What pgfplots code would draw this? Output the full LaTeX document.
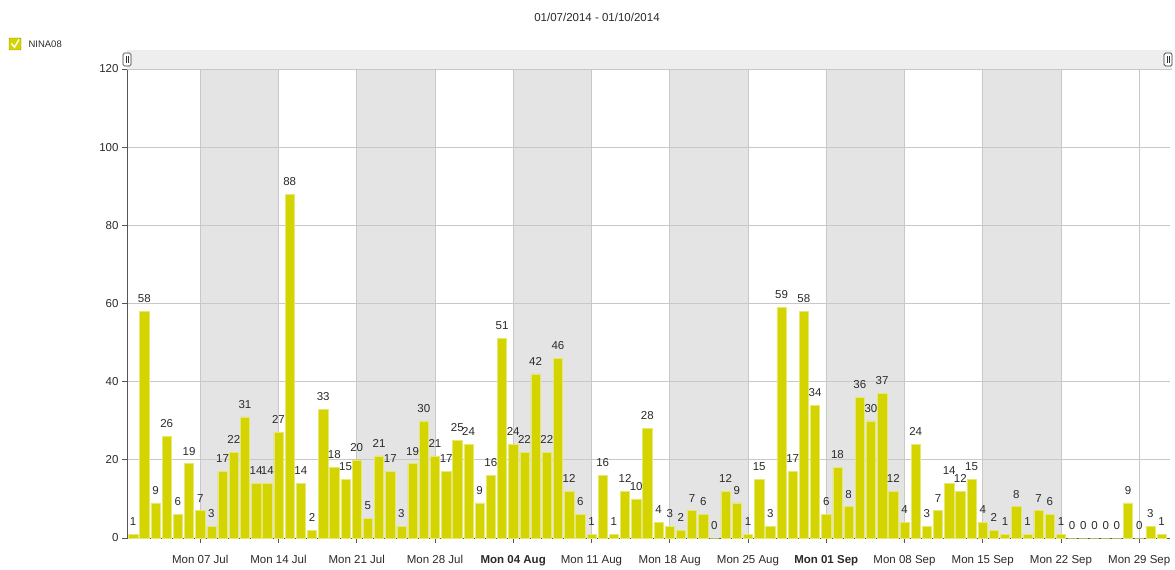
\documentclass[border=0pt]{standalone}
\usepackage{pgfplots}
\pgfplotsset{compat=1.18}
\usepackage{fontspec}
\setmainfont{Liberation Sans}
\definecolor{barcol}{HTML}{D4D400}
\definecolor{bandcol}{HTML}{E4E4E4}
\definecolor{stripcol}{HTML}{EEEEEE}
\definecolor{gridcol}{HTML}{C8C8C8}
\definecolor{axcol}{HTML}{555555}
\definecolor{txt}{HTML}{2A2A2A}

\pgfplotstableread{
x y
0 1
1 58
2 9
3 26
4 6
5 19
6 7
7 3
8 17
9 22
10 31
11 14
12 14
13 27
14 88
15 14
16 2
17 33
18 18
19 15
20 20
21 5
22 21
23 17
24 3
25 19
26 30
27 21
28 17
29 25
30 24
31 9
32 16
33 51
34 24
35 22
36 42
37 22
38 46
39 12
40 6
41 1
42 16
43 1
44 12
45 10
46 28
47 4
48 3
49 2
50 7
51 6
52 0
53 12
54 9
55 1
56 15
57 3
58 59
59 17
60 58
61 34
62 6
63 18
64 8
65 36
66 30
67 37
68 12
69 4
70 24
71 3
72 7
73 14
74 12
75 15
76 4
77 2
78 1
79 8
80 1
81 7
82 6
83 1
84 0
85 0
86 0
87 0
88 0
89 9
90 0
91 3
92 1
}\ninadata

\begin{document}
\begin{tikzpicture}[x=1pt,y=1pt]
\path (0,0) rectangle (1175,566);
% title and legend
\node[font=\fontsize{11.5}{13}\selectfont, text=txt] at (597,549) {01/07/2014 - 01/10/2014};
\draw[draw=barcol!70!black, fill=barcol, rounded corners=1pt] (9,516) rectangle (21,528);
\draw[white, line width=1.4pt] (11.5,522.5) -- (14.5,518.8) -- (19,526.5);
\node[anchor=west, font=\fontsize{9.5}{11}\selectfont, text=txt] at (25,522) {NINA08};
% top scroll strip
\fill[stripcol] (127,497) rectangle (1172,516);
\draw[gridcol] (127,497) -- (1172,497);
\begin{axis}[
  at={(127pt,28pt)}, anchor=south west,
  width=1043pt, height=469pt, scale only axis,
  set layers,
  xmin=-0.55, xmax=92.75, ymin=0, ymax=120,
  axis x line=bottom, axis y line=left,
  axis line style={axcol, line width=0.8pt, -},
  tick align=outside, major tick length=5pt,
  tick style={axcol, line width=0.8pt},
  ytick={0,20,...,120},
  xtick={6,13,...,90},
  xticklabels={Mon 07 Jul, Mon 14 Jul, Mon 21 Jul, Mon 28 Jul, \textbf{Mon 04 Aug}, Mon 11 Aug, Mon 18 Aug, Mon 25 Aug, \textbf{Mon 01 Sep}, Mon 08 Sep, Mon 15 Sep, Mon 22 Sep, Mon 29 Sep},
  tick label style={font=\fontsize{11.5}{13}\selectfont, text=txt},
  xticklabel style={yshift=-9pt},
  grid=major, major grid style={gridcol, line width=0.7pt},
  ybar, bar width=0.83,
  nodes near coords,
  every node near coord/.append style={font=\fontsize{11.5}{13}\selectfont, text=txt, yshift=5pt},
  /pgf/number format/assume math mode=true,
]
\begin{pgfonlayer}{axis background}
\pgfplotsinvokeforeach{6,20,34,48,62,76}{
  \fill[bandcol] (axis cs:#1,0) rectangle (axis cs:#1+7,120);
}
\end{pgfonlayer}
\addplot[fill=barcol, draw=barcol!55!white, line width=0.5pt] table[x=x,y=y] {\ninadata};
\end{axis}
% scroll handles
\foreach \hx in {127,1168}{
  \draw[black!80, fill=white, rounded corners=1.5pt, line width=0.7pt] (\hx-4,500) rectangle (\hx+4,513);
  \draw[black!80, line width=0.6pt] (\hx-1,503) -- (\hx-1,510) (\hx+1,503) -- (\hx+1,510);
}
\end{tikzpicture}
\end{document}
